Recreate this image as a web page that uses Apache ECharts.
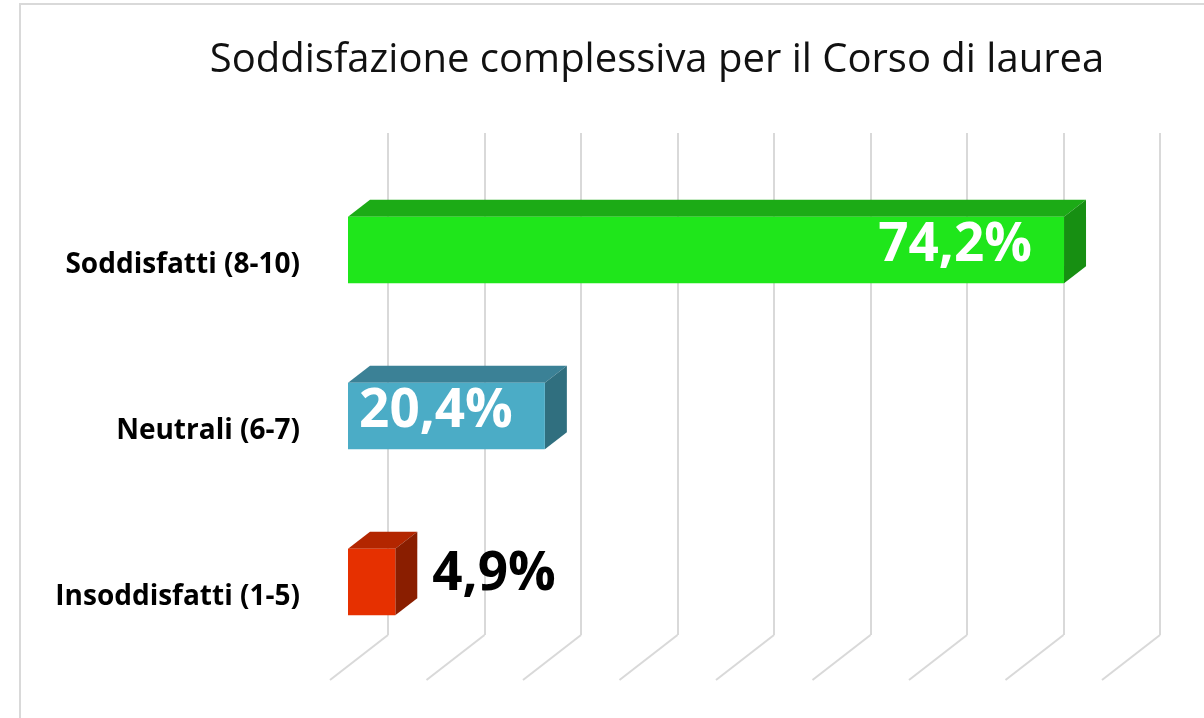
<!DOCTYPE html>
<html>
<head>
<meta charset="utf-8">
<script src="https://cdn.jsdelivr.net/npm/echarts@6/dist/echarts.min.js"></script>
<style>html,body{margin:0;padding:0;background:#fff;}#main{width:1204px;height:718px;}</style>
</head>
<body>
<div id="main"></div>
<script>
// ---- data ----
const titleText = 'Soddisfazione complessiva per il Corso di laurea';
const categories = ['Soddisfatti (8-10)', 'Neutrali (6-7)', 'Insoddisfatti (1-5)'];
const values = [74.2, 20.4, 4.9];
const valueTicks = [0, 10, 20, 30, 40, 50, 60, 70, 80];

// ---- style ----
const faceColors = [
  { front: '#1fe61b', top: '#1cab16', side: '#178f12' },
  { front: '#4bacc6', top: '#3b8196', side: '#306f7f' },
  { front: '#e63000', top: '#b32600', side: '#8a1e00' }
];
const barOffset = [18, -15];   // bar plane relative to front plane
const barDepth = [22, -17];    // depth of each bar
const wallOffset = [58, -45];  // back wall relative to front plane
const gridColor = '#d9d9d9';

const chart = echarts.init(document.getElementById('main'));

function fmt(v) { return v.toFixed(1).replace('.', ',') + '%'; }

chart.setOption({
  animation: false,
  backgroundColor: '#fff',
  title: {
    text: titleText,
    left: 652, top: 36, textAlign: 'center',
    textStyle: { fontFamily: 'Open Sans', fontWeight: 'normal', fontSize: 40, color: '#111' }
  },
  graphic: [{
    type: 'rect', shape: { x: 20, y: 4, width: 1200, height: 730 },
    style: { fill: 'none', stroke: '#d9d9d9', lineWidth: 2 }, z: -1
  }],
  grid: [
    { left: 330, width: 772, top: 182, height: 498 },   // front plane
    { left: 388, width: 772, top: 133, height: 502 }    // back wall
  ],
  xAxis: [
    { gridIndex: 0, type: 'value', min: 0, max: 80, interval: 10, show: false },
    { gridIndex: 1, type: 'value', min: 0, max: 80, interval: 10,
      axisLine: { show: false }, axisTick: { show: false }, axisLabel: { show: false },
      splitLine: { show: true, showMinLine: true, showMaxLine: true, lineStyle: { color: gridColor, width: 2 } } }
  ],
  yAxis: [
    { gridIndex: 0, type: 'category', data: categories, inverse: true,
      axisLine: { show: false }, axisTick: { show: false },
      axisLabel: { margin: 30, fontFamily: 'Open Sans', fontWeight: 'bold', fontSize: 28, color: '#000' } },
    { gridIndex: 1, type: 'category', data: categories, inverse: true, show: false }
  ],
  series: [
    {
      type: 'custom', xAxisIndex: 0, yAxisIndex: 0, z: 1,
      data: valueTicks.map(v => [v, 0]),
      renderItem: function (params, api) {
        const cs = params.coordSys;
        const p = api.coord([api.value(0), 0]);
        const y0 = cs.y + cs.height;
        return {
          type: 'line',
          shape: { x1: p[0], y1: y0, x2: p[0] + wallOffset[0], y2: y0 + wallOffset[1] },
          style: { stroke: gridColor, lineWidth: 2 }
        };
      }
    },
    {
      type: 'custom', xAxisIndex: 0, yAxisIndex: 0, z: 5,
      data: values.map((v, i) => [v, i]),
      renderItem: function (params, api) {
        const v = api.value(0), idx = api.value(1);
        const s = api.coord([0, idx]);
        const e = api.coord([v, idx]);
        const band = api.size([0, 1])[1];
        const h = band * 0.4;
        const x0 = s[0] + barOffset[0], x1 = e[0] + barOffset[0];
        const cy = s[1] + barOffset[1];
        const yt = cy - h / 2, yb = cy + h / 2;
        const dx = barDepth[0], dy = barDepth[1];
        const c = faceColors[idx];
        const w = x1 - x0;
        const inside = w > 150;
        const label = inside ? {
          type: 'text', z2: 10,
          style: { text: fmt(v), x: x1 - 32, y: cy - 4, align: 'right', verticalAlign: 'middle',
            fill: '#fff', font: 'bold 53px "Open Sans"' }
        } : {
          type: 'text', z2: 10,
          style: { text: fmt(v), x: x1 + dx + 15, y: cy - 7, align: 'left', verticalAlign: 'middle',
            fill: '#000', font: 'bold 53px "Open Sans"' }
        };
        return {
          type: 'group',
          children: [
            { type: 'polygon', shape: { points: [[x0, yt], [x1, yt], [x1 + dx, yt + dy], [x0 + dx, yt + dy]] },
              style: { fill: c.top } },
            { type: 'polygon', shape: { points: [[x1, yt], [x1 + dx, yt + dy], [x1 + dx, yb + dy], [x1, yb]] },
              style: { fill: c.side } },
            { type: 'rect', shape: { x: x0, y: yt, width: w, height: h }, style: { fill: c.front } },
            label
          ]
        };
      }
    }
  ]
});
</script>
</body>
</html>
